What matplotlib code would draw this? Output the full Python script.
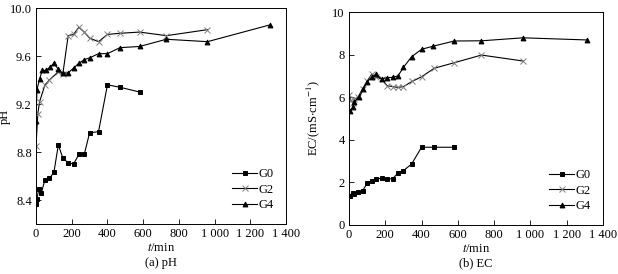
import numpy as np
import matplotlib
matplotlib.use('Agg')
import matplotlib.pyplot as plt

plt.rcParams['font.family'] = ['Liberation Serif', 'DejaVu Serif']
plt.rcParams['mathtext.fontset'] = 'stix'
plt.rcParams['font.size'] = 9

# pH data
t_g0 = [0, 5, 15, 30, 50, 75, 100, 125, 150, 180, 210, 240, 270, 300, 350, 400, 470, 580]
ph_g0 = [8.37, 8.41, 8.49, 8.46, 8.57, 8.58, 8.63, 8.86, 8.75, 8.71, 8.70, 8.78, 8.78,
         8.96, 8.97, 9.36, 9.34, 9.30]

t_g2_ph = [0, 10, 20, 50, 75, 125, 150, 180, 210, 240, 270, 300, 350, 400, 470, 580, 730, 960]
ph_g2 = [8.85, 9.12, 9.22, 9.36, 9.40, 9.47, 9.45, 9.77, 9.78, 9.84, 9.80, 9.75, 9.72,
         9.78, 9.79, 9.80, 9.77, 9.82]

t_g4_ph = [0, 5, 20, 35, 55, 80, 100, 125, 150, 180, 210, 240, 270, 300, 350, 400, 470, 580,
           730, 960, 1310]
ph_g4 = [9.06, 9.32, 9.41, 9.48, 9.48, 9.51, 9.54, 9.49, 9.455, 9.46, 9.50, 9.54, 9.57,
         9.585, 9.62, 9.62, 9.67, 9.68, 9.74, 9.72, 9.86]

# EC data
t_g0_ec = [5, 20, 30, 50, 75, 100, 125, 150, 180, 210, 240, 270, 300, 345, 400, 470, 580]
ec_g0 = [1.38, 1.52, 1.46, 1.53, 1.60, 1.96, 2.08, 2.17, 2.19, 2.16, 2.17, 2.43, 2.55,
         2.86, 3.65, 3.65, 3.65]

t_g2_ec = [0, 10, 20, 30, 50, 75, 100, 125, 150, 180, 210, 240, 270, 300, 350, 400, 470,
           580, 730, 960]
ec_g2 = [6.1, 5.85, 5.75, 5.9, 6.0, 6.4, 6.75, 7.08, 6.95, 6.85, 6.54, 6.5, 6.46, 6.5,
         6.75, 6.96, 7.36, 7.62, 7.98, 7.70]

t_g4_ec = [5, 20, 30, 55, 80, 100, 125, 150, 180, 210, 240, 270, 300, 345, 400, 465, 580,
           730, 960, 1310]
ec_g4 = [5.35, 5.52, 5.79, 6.0, 6.37, 6.73, 6.93, 7.09, 6.85, 6.92, 6.93, 7.0, 7.40, 7.90,
         8.25, 8.40, 8.64, 8.65, 8.79, 8.69]

xticks = [0, 200, 400, 600, 800, 1000, 1200, 1400]
xticklabels = ['0', '200', '400', '600', '800', '1 000', '1 200', '1 400']

fig = plt.figure(figsize=(6.18, 2.74), dpi=100)
ax1 = fig.add_axes([0.0583, 0.1825, 0.4045, 0.788])
ax2 = fig.add_axes([0.5647, 0.179, 0.411, 0.777])


def draw(ax, series):
    for t, v, m, mc, label in series:
        ax.plot(t, v, color='black', lw=0.8, marker=m, ms=3.5 if m != 'x' else 4,
                mfc=mc, mec=mc, mew=0.7, label=label)
    ax.set_xlim(0, 1400)
    ax.set_xticks(xticks)
    ax.set_xticklabels(xticklabels)
    ax.tick_params(direction='in', top=False, right=False, length=3.5, width=0.6, pad=3)
    for s in ax.spines.values():
        s.set_linewidth(0.7)
    ax.set_xlabel(r'$t$/min', labelpad=1)
    ax.legend(loc='lower right', frameon=False, handlelength=2.0, handletextpad=0.1,
              labelspacing=0.3, borderaxespad=0.6)


draw(ax1, [(t_g0, ph_g0, 's', 'black', 'G0'),
           (t_g2_ph, ph_g2, 'x', 'gray', 'G2'),
           (t_g4_ph, ph_g4, '^', 'black', 'G4')])
ax1.set_ylim(8.2, 10.0)
ax1.set_yticks([8.4, 8.8, 9.2, 9.6, 10.0])
ax1.set_yticklabels(['8.4', '8.8', '9.2', '9.6', '10.0'])
ax1.set_ylabel('pH')
ax1.yaxis.set_label_coords(-0.1, 0.5)

draw(ax2, [(t_g0_ec, ec_g0, 's', 'black', 'G0'),
           (t_g2_ec, ec_g2, 'x', 'gray', 'G2'),
           (t_g4_ec, ec_g4, '^', 'black', 'G4')])
ax2.set_ylim(0, 10)
ax2.set_yticks([0, 2, 4, 6, 8, 10])
ax2.set_ylabel(r'EC/(mS$\cdot$cm$^{-1}$)')
ax2.yaxis.set_label_coords(-0.105, 0.5)

# subtitles under each panel
fig.text(161 / 618, 1 - 263 / 274, '(a) pH', ha='center', va='center')
fig.text(476 / 618, 1 - 263 / 274, '(b) EC', ha='center', va='center')

plt.savefig('out.png', dpi=100)
